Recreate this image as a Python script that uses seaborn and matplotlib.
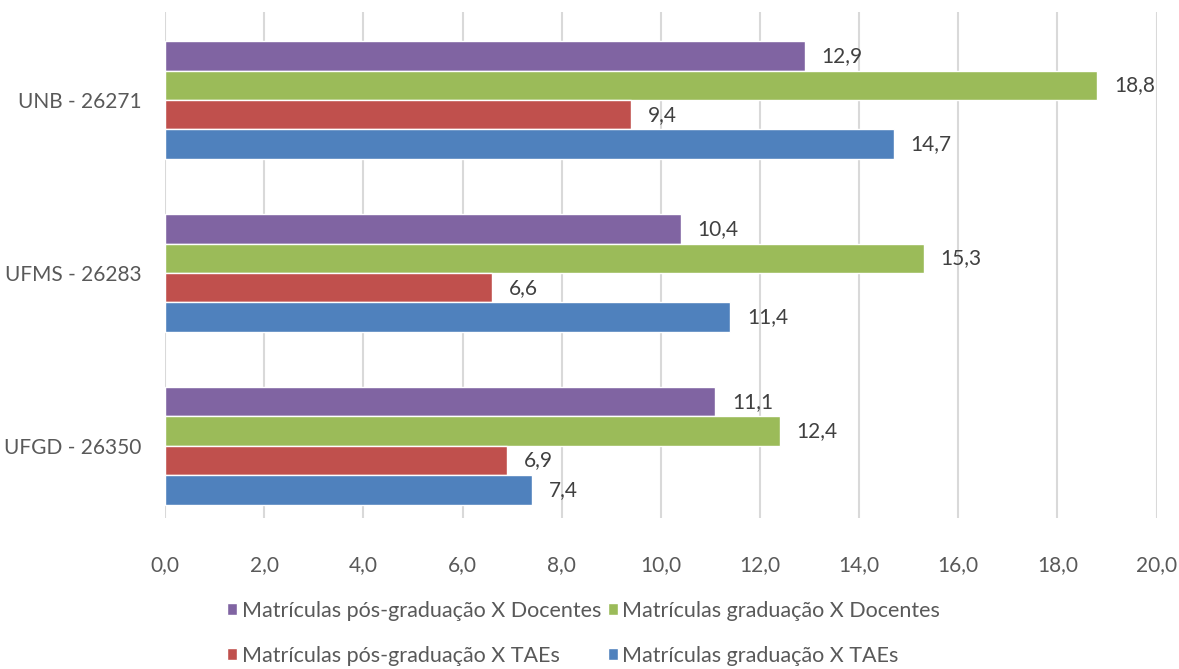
import pandas as pd
import matplotlib.pyplot as plt
import seaborn as sns

universidades = ['UNB - 26271', 'UFMS - 26283', 'UFGD - 26350']
series = ['Matrículas pós-graduação X Docentes',
          'Matrículas graduação X Docentes',
          'Matrículas pós-graduação X TAEs',
          'Matrículas graduação X TAEs']
pos_docentes = [12.9, 10.4, 11.1]
grad_docentes = [18.8, 15.3, 12.4]
pos_taes = [9.4, 6.6, 6.9]
grad_taes = [14.7, 11.4, 7.4]
cores = ['#8064A2', '#9BBB59', '#C0504D', '#4F81BD']
xticks = [0, 2, 4, 6, 8, 10, 12, 14, 16, 18, 20]

rows = []
for s, vals in zip(series, [pos_docentes, grad_docentes, pos_taes, grad_taes]):
    for u, v in zip(universidades, vals):
        rows.append({'universidade': u, 'serie': s, 'valor': v})
df = pd.DataFrame(rows)

sns.set_style('white')
plt.rcParams['font.family'] = ['Lato', 'DejaVu Sans']
texto = '#595959'

fig = plt.figure(figsize=(11.79, 6.69), dpi=100)
ax = fig.add_axes([0.14, 0.226, 0.841, 0.756])

sns.barplot(data=df, x='valor', y='universidade', hue='serie',
            hue_order=series, order=universidades, palette=cores,
            orient='h', width=0.68, saturation=1, ax=ax, legend=True)

# rótulos de dados com vírgula decimal
for cont in ax.containers:
    labels = [f'{v:.1f}'.replace('.', ',') for v in cont.datavalues]
    ax.bar_label(cont, labels=labels, padding=12, fontsize=15, color='#404040')

ax.set_xlim(0, 20)
ax.set_ylim(2.416, -0.509)
ax.set_xticks(xticks)
ax.set_xticklabels([f'{t:.1f}'.replace('.', ',') for t in xticks])
ax.xaxis.grid(True, color='#D9D9D9', linewidth=1.5)
ax.set_axisbelow(True)
for sp in ax.spines.values():
    sp.set_visible(False)
ax.tick_params(axis='x', length=0, pad=27, labelsize=15, labelcolor=texto)
ax.tick_params(axis='y', length=0, pad=17, labelsize=15, labelcolor=texto)
ax.set_xlabel('')
ax.set_ylabel('')

handles, labs = ax.get_legend_handles_labels()
ax.get_legend().remove()
ordem = [0, 2, 1, 3]
fig.legend([handles[i] for i in ordem], [labs[i] for i in ordem],
           loc='lower center', bbox_to_anchor=(0.495, -0.024), ncol=2,
           frameon=False, fontsize=15.5, labelcolor=texto,
           handlelength=0.47, handleheight=0.47, handletextpad=0.2,
           columnspacing=0.3, labelspacing=1.15)

fig.savefig('out.png', dpi=100)
